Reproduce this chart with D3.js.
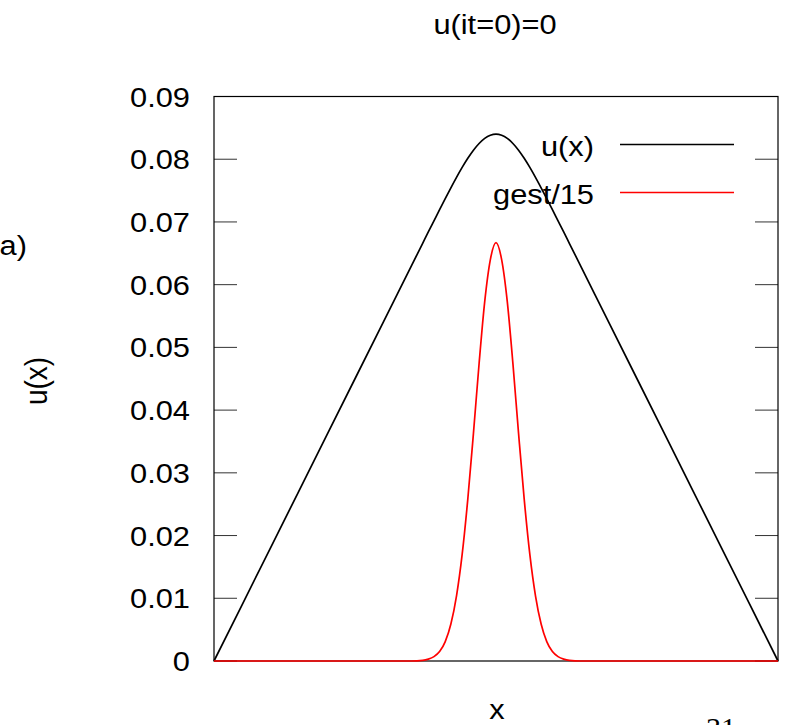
<!DOCTYPE html>
<html>
<head>
<meta charset="utf-8">
<script src="https://cdnjs.cloudflare.com/ajax/libs/d3/7.8.5/d3.min.js"></script>
<style>
  html, body { margin: 0; padding: 0; background: #fff; overflow: hidden; }
  text { font-family: "Liberation Sans", Arial, sans-serif; fill: #000; }
</style>
</head>
<body>
<div id="chart"></div>
<script>
// x positions (axis has no tick labels, so 0..1 across the box)
const xGrid = [0, 0.1, 0.2, 0.3, 0.35,
  0.37, 0.38, 0.39, 0.40, 0.41, 0.42, 0.43, 0.44, 0.45, 0.46, 0.47, 0.48, 0.49, 0.50,
  0.51, 0.52, 0.53, 0.54, 0.55, 0.56, 0.57, 0.58, 0.59, 0.60, 0.61, 0.62, 0.63,
  0.65, 0.7, 0.8, 0.9, 1.0];

const uVals = [0, 0.018, 0.036, 0.054, 0.063,
  0.0666, 0.06840, 0.07018, 0.07196, 0.07372, 0.07544, 0.07711, 0.07869, 0.08015, 0.08144, 0.08251, 0.08332, 0.08382, 0.0840,
  0.08382, 0.08332, 0.08251, 0.08144, 0.08015, 0.07869, 0.07711, 0.07544, 0.07372, 0.07196, 0.07018, 0.06840, 0.0666,
  0.063, 0.054, 0.036, 0.018, 0];

const gestVals = [0, 0, 0, 0, 0,
  0.0001, 0.0003, 0.0007, 0.0015, 0.0031, 0.0059, 0.0104, 0.0170, 0.0258, 0.0363, 0.0474, 0.0573, 0.0640, 0.0667,
  0.0640, 0.0573, 0.0474, 0.0363, 0.0258, 0.0170, 0.0104, 0.0059, 0.0031, 0.0015, 0.0007, 0.0003, 0.0001,
  0, 0, 0, 0, 0];

const yTicks = [0, 0.01, 0.02, 0.03, 0.04, 0.05, 0.06, 0.07, 0.08, 0.09];
const yTickLabels = ['0', '0.01', '0.02', '0.03', '0.04', '0.05', '0.06', '0.07', '0.08', '0.09'];

const seriesNames = ['u(x)', 'gest/15'];
const seriesColors = ['#000000', '#ff0000'];

const W = 785, H = 725;
const box = { left: 214, right: 778, top: 96.5, bottom: 661 };
const fs = 28, sx = 1.1; // text looks stretched horizontally

const svg = d3.select('#chart').append('svg')
    .attr('width', W)
    .attr('height', H);

const x = d3.scaleLinear().domain([0, 1]).range([box.left, box.right]);
const y = d3.scaleLinear().domain([0, 0.09]).range([box.bottom, box.top]);

function label(txt, px, py, anchor, extra) {
    return svg.append('text')
        .attr('transform', `translate(${px},${py}) scale(${sx},1)` + (extra || ''))
        .attr('text-anchor', anchor)
        .style('font-size', fs + 'px')
        .text(txt);
}

// ticks, inward on both sides
const tickLen = 23;
svg.append('g').selectAll('line.lt')
    .data(yTicks)
    .enter().append('line')
    .attr('x1', box.left).attr('x2', box.left + tickLen)
    .attr('y1', d => y(d)).attr('y2', d => y(d))
    .attr('stroke', '#333').attr('stroke-width', 1);
svg.append('g').selectAll('line.rt')
    .data(yTicks)
    .enter().append('line')
    .attr('x1', box.right - tickLen).attr('x2', box.right)
    .attr('y1', d => y(d)).attr('y2', d => y(d))
    .attr('stroke', '#333').attr('stroke-width', 1);

yTicks.forEach((t, i) => label(yTickLabels[i], 190, y(t) + 10, 'end'));

// frame
svg.append('rect')
    .attr('x', box.left).attr('y', box.top)
    .attr('width', box.right - box.left).attr('height', box.bottom - box.top)
    .attr('fill', 'none').attr('stroke', '#000').attr('stroke-width', 1.2);

const data = xGrid.map((xv, i) => ({ x: xv, u: uVals[i], g: gestVals[i] }));

svg.append('path')
    .datum(data)
    .attr('fill', 'none')
    .attr('stroke', seriesColors[0])
    .attr('stroke-width', 1.7)
    .attr('d', d3.line().x(d => x(d.x)).y(d => y(d.u)).curve(d3.curveMonotoneX));

svg.append('path')
    .datum(data)
    .attr('fill', 'none')
    .attr('stroke', seriesColors[1])
    .attr('stroke-width', 1.7)
    .attr('d', d3.line().x(d => x(d.x)).y(d => y(d.g)).curve(d3.curveMonotoneX));

// legend
const legY = [144.5, 192.5];
seriesNames.forEach((name, i) => {
    label(name, 594, legY[i] + 11, 'end');
    svg.append('line')
        .attr('x1', 620).attr('x2', 734)
        .attr('y1', legY[i]).attr('y2', legY[i])
        .attr('stroke', seriesColors[i]).attr('stroke-width', 1.6);
});

// titles
label('u(it=0)=0', 495, 34, 'middle');
label('x', 497, 719, 'middle');
label('u(x)', 47, 381, 'middle', ' rotate(-90)');
label('a)', 27, 255, 'end');

svg.append('text')
    .attr('x', 721).attr('y', 738)
    .attr('text-anchor', 'middle')
    .style('font-family', '"Liberation Serif", "Times New Roman", serif')
    .style('font-size', '30px')
    .text('31');
</script>
</body>
</html>
